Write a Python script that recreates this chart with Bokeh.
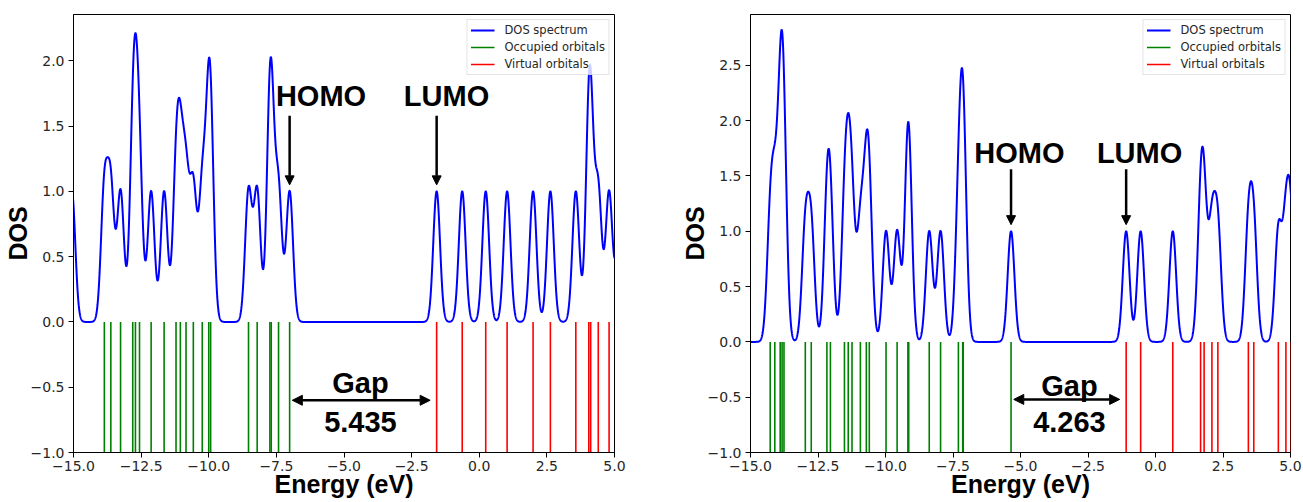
import math
import numpy as np
from bokeh.plotting import figure
from bokeh.layouts import row
from bokeh.models import Range1d, FixedTicker, Label, Arrow, NormalHead, ColumnDataSource
from bokeh.embed import file_html
from bokeh.resources import INLINE

# ---------------- data ----------------
broadening_sigma = 0.125  # eV, Gaussian broadening of each orbital level

left_occupied = [-15.06, -13.86, -13.62, -13.26, -12.81, -12.71, -12.56, -12.13,
                 -11.65, -11.21, -11.05, -10.84, -10.57, -10.24, -10.00, -9.93,
                 -8.53, -8.21, -7.74, -7.69, -7.42, -7.01]
left_virtual = [-1.575, -0.63, 0.24, 1.03, 1.99, 2.63, 3.57, 4.05, 4.12, 4.40, 4.80, 5.22]
left_gap = "5.435"

right_occupied = [-14.27, -14.10, -13.90, -13.83, -13.76, -12.97, -12.75, -12.17,
                  -12.04, -11.52, -11.38, -11.24, -10.93, -10.71, -10.60, -9.98,
                  -9.57, -9.17, -9.14, -8.38, -7.96, -7.30, -7.14, -7.12, -5.35]
right_virtual = [-1.087, -0.55, 0.64, 1.67, 1.80, 2.09, 2.31, 3.44, 3.64, 4.55, 4.83, 5.02]
right_gap = "4.263"

x_ticks = [-15.0, -12.5, -10.0, -7.5, -5.0, -2.5, 0.0, 2.5, 5.0]
left_y_ticks = [-1.0, -0.5, 0.0, 0.5, 1.0, 1.5, 2.0]
right_y_ticks = [-1.0, -0.5, 0.0, 0.5, 1.0, 1.5, 2.0, 2.5]


def fmt(v):
    return f"{v:.1f}".replace("-", "\u2212")


def make_panel(occ, virt, gap_text, y_top, y_ticks, cfg,
               border_left, border_right, frame_w):
    energies = np.linspace(-15.5, 5.5, 4201)
    levels = np.array(occ + virt)
    dos = np.exp(-((energies[:, None] - levels[None, :]) ** 2) / (2 * broadening_sigma ** 2)).sum(axis=1)

    p = figure(output_backend="svg", toolbar_location=None,
               frame_width=frame_w, frame_height=438,
               min_border_left=border_left, min_border_right=border_right,
               min_border_top=14, min_border_bottom=50,
               x_range=Range1d(-15, 5), y_range=Range1d(-1.0, y_top),
               background_fill_color="white", border_fill_color="white")
    p.grid.visible = False
    p.outline_line_color = "black"
    p.outline_line_width = 1
    p.outline_line_alpha = 1

    for ax, ticks in ((p.xaxis[0], x_ticks), (p.yaxis[0], y_ticks)):
        ax.ticker = FixedTicker(ticks=ticks)
        ax.major_label_overrides = {t: fmt(t) for t in ticks}
        ax.major_label_text_font = "DejaVu Sans"
        ax.major_label_text_font_size = "14px"
        ax.major_label_text_color = "#262626"
        ax.major_tick_out = 5
        ax.major_tick_in = 0
        ax.minor_tick_out = 0
        ax.minor_tick_in = 0
        ax.major_tick_line_color = "black"
        ax.axis_line_color = "black"
        ax.axis_label_text_font = "Liberation Sans"
        ax.axis_label_text_font_style = "bold"
        ax.axis_label_text_font_size = "25px"
        ax.axis_label_text_color = "black"

    p.xaxis[0].axis_label = "Energy (eV)"
    p.xaxis[0].major_label_standoff = 3
    p.xaxis[0].axis_label_standoff = -4
    p.yaxis[0].axis_label = "DOS"
    p.yaxis[0].major_label_standoff = 4
    p.yaxis[0].axis_label_standoff = -4

    src = ColumnDataSource(dict(e=energies, dos=dos))
    p.line("e", "dos", source=src, line_color="#0000ff", line_width=2,
           legend_label="DOS spectrum")
    p.segment(x0=occ, y0=[-1.0] * len(occ), x1=occ, y1=[0.0] * len(occ),
              line_color="#008000", line_width=1.6, legend_label="Occupied orbitals")
    p.segment(x0=virt, y0=[-1.0] * len(virt), x1=virt, y1=[0.0] * len(virt),
              line_color="#ff0000", line_width=1.6, legend_label="Virtual orbitals")

    lg = p.legend[0]
    lg.location = "top_right"
    lg.margin = 5
    lg.padding = 3
    lg.spacing = 3
    lg.glyph_width = 24
    lg.glyph_height = 14
    lg.label_height = 14
    lg.label_standoff = 10
    lg.label_text_font = "DejaVu Sans"
    lg.label_text_font_size = "11.5px"
    lg.label_text_color = "#262626"
    lg.border_line_color = "#cccccc"
    lg.border_line_width = 1
    lg.background_fill_color = "white"
    lg.background_fill_alpha = 0.8

    homo = occ[-1]
    lumo = virt[0]
    big = dict(text_font="Liberation Sans", text_font_style="bold",
               text_font_size="29px", text_color="black",
               text_align="center", text_baseline="middle")

    # HOMO / LUMO labels with arrows
    p.add_layout(Label(x=cfg["homo_label_x"], y=cfg["label_y"], text="HOMO", **big))
    p.add_layout(Label(x=cfg["lumo_label_x"], y=cfg["label_y"], text="LUMO", **big))
    for xe in (homo, lumo):
        p.add_layout(Arrow(end=NormalHead(size=9, fill_color="black", line_color="black"),
                           x_start=xe, y_start=cfg["arrow_tail"], x_end=xe, y_end=cfg["arrow_tip"],
                           line_color="black", line_width=2.5))

    # gap double arrow and text
    p.add_layout(Arrow(start=NormalHead(size=10, fill_color="black", line_color="black"),
                       end=NormalHead(size=10, fill_color="black", line_color="black"),
                       x_start=homo + 0.1, y_start=cfg["gap_arrow_y"],
                       x_end=lumo - 0.24, y_end=cfg["gap_arrow_y"],
                       line_color="black", line_width=2.5))
    mid = (homo + lumo) / 2 + cfg["gap_dx"]
    p.add_layout(Label(x=mid, y=cfg["gap_label_y"], text="Gap", **big))
    p.add_layout(Label(x=mid, y=cfg["gap_value_y"], text=gap_text, **big))
    return p


left_cfg = dict(homo_label_x=-5.85, lumo_label_x=-1.21, label_y=1.727,
                arrow_tail=1.58, arrow_tip=1.05, gap_arrow_y=-0.60,
                gap_dx=-0.1, gap_label_y=-0.47, gap_value_y=-0.765)
right_cfg = dict(homo_label_x=-5.04, lumo_label_x=-0.59, label_y=1.705,
                 arrow_tail=1.56, arrow_tip=1.06, gap_arrow_y=-0.52,
                 gap_dx=0.03, gap_label_y=-0.40, gap_value_y=-0.727)

p_left = make_panel(left_occupied, left_virtual, left_gap, 2.355, left_y_ticks,
                    left_cfg, 73, 40, 541)
p_right = make_panel(right_occupied, right_virtual, right_gap, 2.96, right_y_ticks,
                     right_cfg, 96, 13, 540)

layout = row(p_left, p_right)
open("out.html", "w").write(file_html(layout, INLINE))
